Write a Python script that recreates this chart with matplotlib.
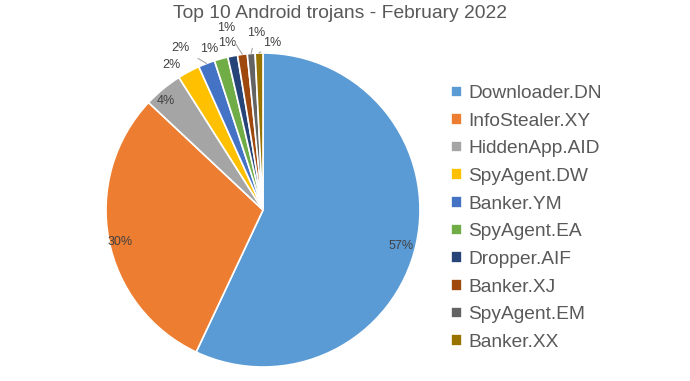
import numpy as np
import matplotlib.pyplot as plt

plt.rcParams['font.family'] = ['Liberation Sans', 'DejaVu Sans']

names = ['Downloader.DN', 'InfoStealer.XY', 'HiddenApp.AID', 'SpyAgent.DW', 'Banker.YM',
         'SpyAgent.EA', 'Dropper.AIF', 'Banker.XJ', 'SpyAgent.EM', 'Banker.XX']
shares = [57.0, 30.0, 4.0, 2.3, 1.7, 1.4, 1.0, 1.0, 0.8, 0.8]
colors = ['#5B9BD5', '#ED7D31', '#A5A5A5', '#FFC000', '#4472C4',
          '#70AD47', '#264478', '#9E480E', '#636363', '#997300']

# label placement (radius, angle shift in degrees, leader line?)
lab_r = [0.91, 0.93, 0.93, 1.09, 1.16, 1.08, 1.09, 1.18, 1.13, 1.065]
lab_shift = [-2, 2, 2, 4, 6, 3, 1, 4, -2, -4.5]
leader = [False, False, False, False, True, False, False, True, True, True]

fig = plt.figure(figsize=(6.9, 3.81), dpi=100)
ax = fig.add_axes([106/690, 14/381, 314/690, 314/381])
wedges, _ = ax.pie(shares, colors=colors, startangle=90, counterclock=False,
                   wedgeprops=dict(edgecolor='white', linewidth=1.2))
ax.set_xlim(-1, 1)
ax.set_ylim(-1, 1)

for w, v, r, s, ld in zip(wedges, shares, lab_r, lab_shift, leader):
    mid = (w.theta1 + w.theta2) / 2
    a = np.deg2rad(mid + s)
    x, y = r * np.cos(a), r * np.sin(a)
    txt = '%.0f%%' % v
    if ld:
        m = np.deg2rad(mid)
        ax.annotate(txt, xy=(np.cos(m), np.sin(m)), xytext=(x, y), ha='center', va='center',
                    fontsize=9, color='#404040', annotation_clip=False,
                    arrowprops=dict(arrowstyle='-', color='#a6a6a6', lw=0.8, shrinkA=5, shrinkB=0))
    else:
        ax.text(x, y, txt, ha='center', va='center', fontsize=9, color='#404040')

fig.text(0.493, 0.965, 'Top 10 Android trojans - February 2022', ha='center', va='center',
         fontsize=13.9, color='#595959')

fig.legend(wedges, names, loc='center left', bbox_to_anchor=(0.629, 0.428), frameon=False,
           fontsize=13.8, labelcolor='#595959', handlelength=0.55, handleheight=0.55,
           handletextpad=0.35, labelspacing=0.555)

fig.savefig('out.png', dpi=100)
